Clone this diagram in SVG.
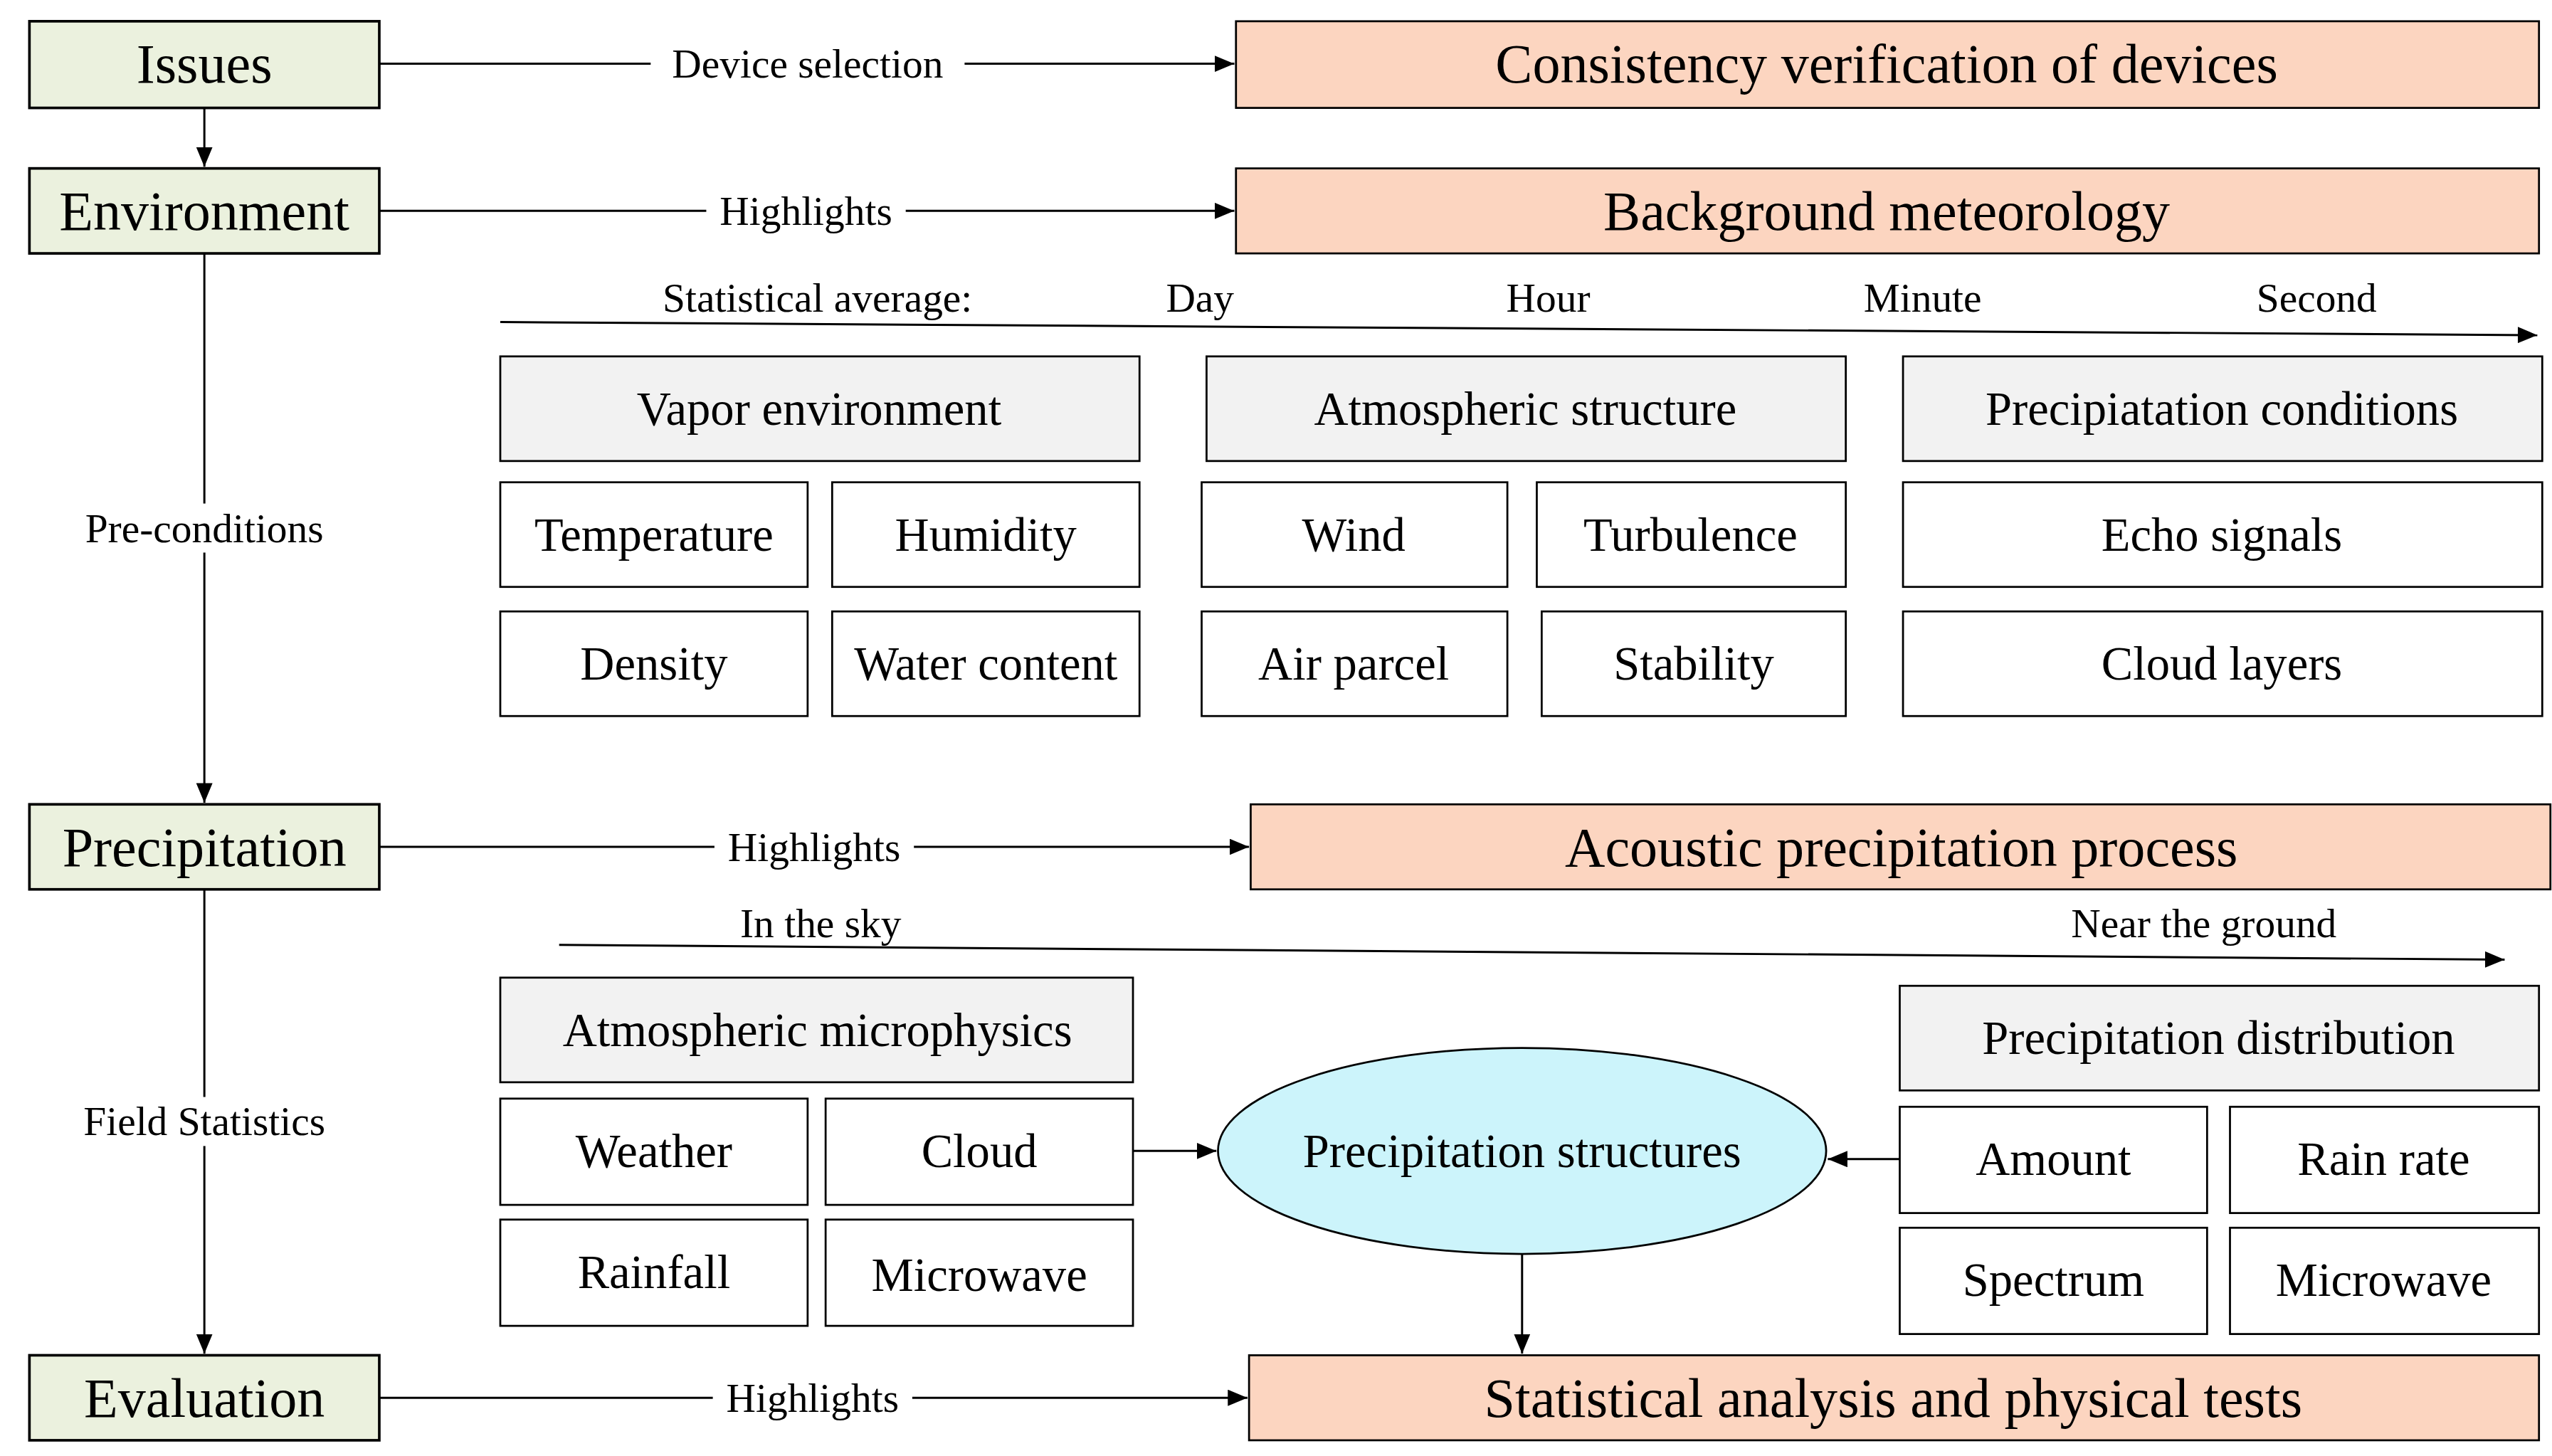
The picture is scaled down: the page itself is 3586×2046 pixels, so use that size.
<svg xmlns="http://www.w3.org/2000/svg" width="3586" height="2046" viewBox="0 0 3586 2046">
<style>
text{font-family:"Liberation Serif","Times New Roman",serif;text-anchor:middle;dominant-baseline:central;fill:#000}
.g rect{fill:#ebf1de;stroke:#000;stroke-width:1.6}
.p rect{fill:#fcd5c0;stroke:#000;stroke-width:1.2}
.h rect{fill:#f2f2f2;stroke:#000;stroke-width:1.2}
.w rect{fill:#fff;stroke:#000;stroke-width:1.2}
.big{font-size:34px}
.mid{font-size:29px}
.sm{font-size:25px}
.c line{stroke:#000;stroke-width:1.3}
.lbl{fill:#fff}
</style>
<defs><marker id="a" markerWidth="12" markerHeight="10" refX="12" refY="5" orient="auto" markerUnits="userSpaceOnUse"><path d="M0,0L12,5L0,10Z" fill="#000"/></marker></defs>
<rect width="3586" height="2046" fill="#fff"/>
<g transform="scale(2.2973)">
<g id="connectors" class="c">
<line x1="125" y1="66" x2="125" y2="102" marker-end="url(#a)"/>
<line x1="125" y1="155" x2="125" y2="491" marker-end="url(#a)"/>
<line x1="125" y1="544" x2="125" y2="828" marker-end="url(#a)"/>
<line x1="232" y1="39" x2="755" y2="39" marker-end="url(#a)"/>
<line x1="232" y1="129" x2="755" y2="129" marker-end="url(#a)"/>
<line x1="232" y1="518" x2="764" y2="518" marker-end="url(#a)"/>
<line x1="232" y1="855" x2="763" y2="855" marker-end="url(#a)"/>
<line x1="306" y1="197" x2="1552" y2="205" marker-end="url(#a)"/>
<line x1="342" y1="578" x2="1532" y2="587" marker-end="url(#a)"/>
<line x1="693" y1="704" x2="744" y2="704" marker-end="url(#a)"/>
<line x1="1162" y1="709" x2="1118" y2="709" marker-end="url(#a)"/>
<line x1="931" y1="767" x2="931" y2="828" marker-end="url(#a)"/>
<rect class="lbl" x="398" y="24" width="192" height="30"/><text class="sm" x="494" y="39">Device selection</text>
<rect class="lbl" x="432" y="114" width="122" height="30"/><text class="sm" x="493" y="129">Highlights</text>
<rect class="lbl" x="437" y="503" width="122" height="30"/><text class="sm" x="498" y="518">Highlights</text>
<rect class="lbl" x="436" y="840" width="122" height="30"/><text class="sm" x="497" y="855">Highlights</text>
<rect class="lbl" x="40" y="308" width="170" height="30"/><text class="sm" x="125" y="323">Pre-conditions</text>
<rect class="lbl" x="38" y="671" width="174" height="30"/><text class="sm" x="125" y="686">Field Statistics</text>
<text class="sm" x="500" y="182">Statistical average:</text>
<text class="sm" x="734" y="182">Day</text>
<text class="sm" x="947" y="182">Hour</text>
<text class="sm" x="1176" y="182">Minute</text>
<text class="sm" x="1417" y="182">Second</text>
<text class="sm" x="502" y="565">In the sky</text>
<text class="sm" x="1348" y="565">Near the ground</text>
</g>
<g id="issues" class="g"><rect x="18" y="13" width="214" height="53"/><text class="big" x="125" y="39">Issues</text></g>
<g id="environment" class="g"><rect x="18" y="103" width="214" height="52"/><text class="big" x="125" y="129">Environment</text></g>
<g id="precipitation" class="g"><rect x="18" y="492" width="214" height="52"/><text class="big" x="125" y="518">Precipitation</text></g>
<g id="evaluation" class="g"><rect x="18" y="829" width="214" height="52"/><text class="big" x="125" y="855">Evaluation</text></g>
<g id="consistency" class="p"><rect x="756" y="13" width="797" height="53"/><text class="big" x="1154" y="39">Consistency verification of devices</text></g>
<g id="background" class="p"><rect x="756" y="103" width="797" height="52"/><text class="big" x="1154" y="129">Background meteorology</text></g>
<g id="acoustic" class="p"><rect x="765" y="492" width="795" height="52"/><text class="big" x="1163" y="518">Acoustic precipitation process</text></g>
<g id="statistical" class="p"><rect x="764" y="829" width="789" height="52"/><text class="big" x="1158" y="855">Statistical analysis and physical tests</text></g>
<g id="vapor" class="h"><rect x="306" y="218" width="391" height="64"/><text class="mid" x="501" y="250">Vapor environment</text></g>
<g id="atmos" class="h"><rect x="738" y="218" width="391" height="64"/><text class="mid" x="933" y="250">Atmospheric structure</text></g>
<g id="precond" class="h"><rect x="1164" y="218" width="391" height="64"/><text class="mid" x="1359" y="250">Precipiatation conditions</text></g>
<g id="temperature" class="w"><rect x="306" y="295" width="188" height="64"/><text class="mid" x="400" y="327">Temperature</text></g>
<g id="humidity" class="w"><rect x="509" y="295" width="188" height="64"/><text class="mid" x="603" y="327">Humidity</text></g>
<g id="wind" class="w"><rect x="735" y="295" width="187" height="64"/><text class="mid" x="828" y="327">Wind</text></g>
<g id="turbulence" class="w"><rect x="940" y="295" width="189" height="64"/><text class="mid" x="1034" y="327">Turbulence</text></g>
<g id="echo" class="w"><rect x="1164" y="295" width="391" height="64"/><text class="mid" x="1359" y="327">Echo signals</text></g>
<g id="density" class="w"><rect x="306" y="374" width="188" height="64"/><text class="mid" x="400" y="406">Density</text></g>
<g id="water" class="w"><rect x="509" y="374" width="188" height="64"/><text class="mid" x="603" y="406">Water content</text></g>
<g id="airparcel" class="w"><rect x="735" y="374" width="187" height="64"/><text class="mid" x="828" y="406">Air parcel</text></g>
<g id="stability" class="w"><rect x="943" y="374" width="186" height="64"/><text class="mid" x="1036" y="406">Stability</text></g>
<g id="cloudlayers" class="w"><rect x="1164" y="374" width="391" height="64"/><text class="mid" x="1359" y="406">Cloud layers</text></g>
<g id="microphys" class="h"><rect x="306" y="598" width="387" height="64"/><text class="mid" x="500" y="630">Atmospheric microphysics</text></g>
<g id="weather" class="w"><rect x="306" y="672" width="188" height="65"/><text class="mid" x="400" y="704">Weather</text></g>
<g id="cloud" class="w"><rect x="505" y="672" width="188" height="65"/><text class="mid" x="599" y="704">Cloud</text></g>
<g id="rainfall" class="w"><rect x="306" y="746" width="188" height="65"/><text class="mid" x="400" y="778">Rainfall</text></g>
<g id="microwave1" class="w"><rect x="505" y="746" width="188" height="65"/><text class="mid" x="599" y="780">Microwave</text></g>
<g id="structures"><ellipse cx="931" cy="704" rx="186" ry="63" fill="#ccf4fb" stroke="#000" stroke-width="1.2"/><text class="mid" x="931" y="704">Precipitation structures</text></g>
<g id="distribution" class="h"><rect x="1162" y="603" width="391" height="64"/><text class="mid" x="1357" y="635">Precipitation distribution</text></g>
<g id="amount" class="w"><rect x="1162" y="677" width="188" height="65"/><text class="mid" x="1256" y="709">Amount</text></g>
<g id="rainrate" class="w"><rect x="1364" y="677" width="189" height="65"/><text class="mid" x="1458" y="709">Rain rate</text></g>
<g id="spectrum" class="w"><rect x="1162" y="751" width="188" height="65"/><text class="mid" x="1256" y="783">Spectrum</text></g>
<g id="microwave2" class="w"><rect x="1364" y="751" width="189" height="65"/><text class="mid" x="1458" y="783">Microwave</text></g>
</g>
</svg>
